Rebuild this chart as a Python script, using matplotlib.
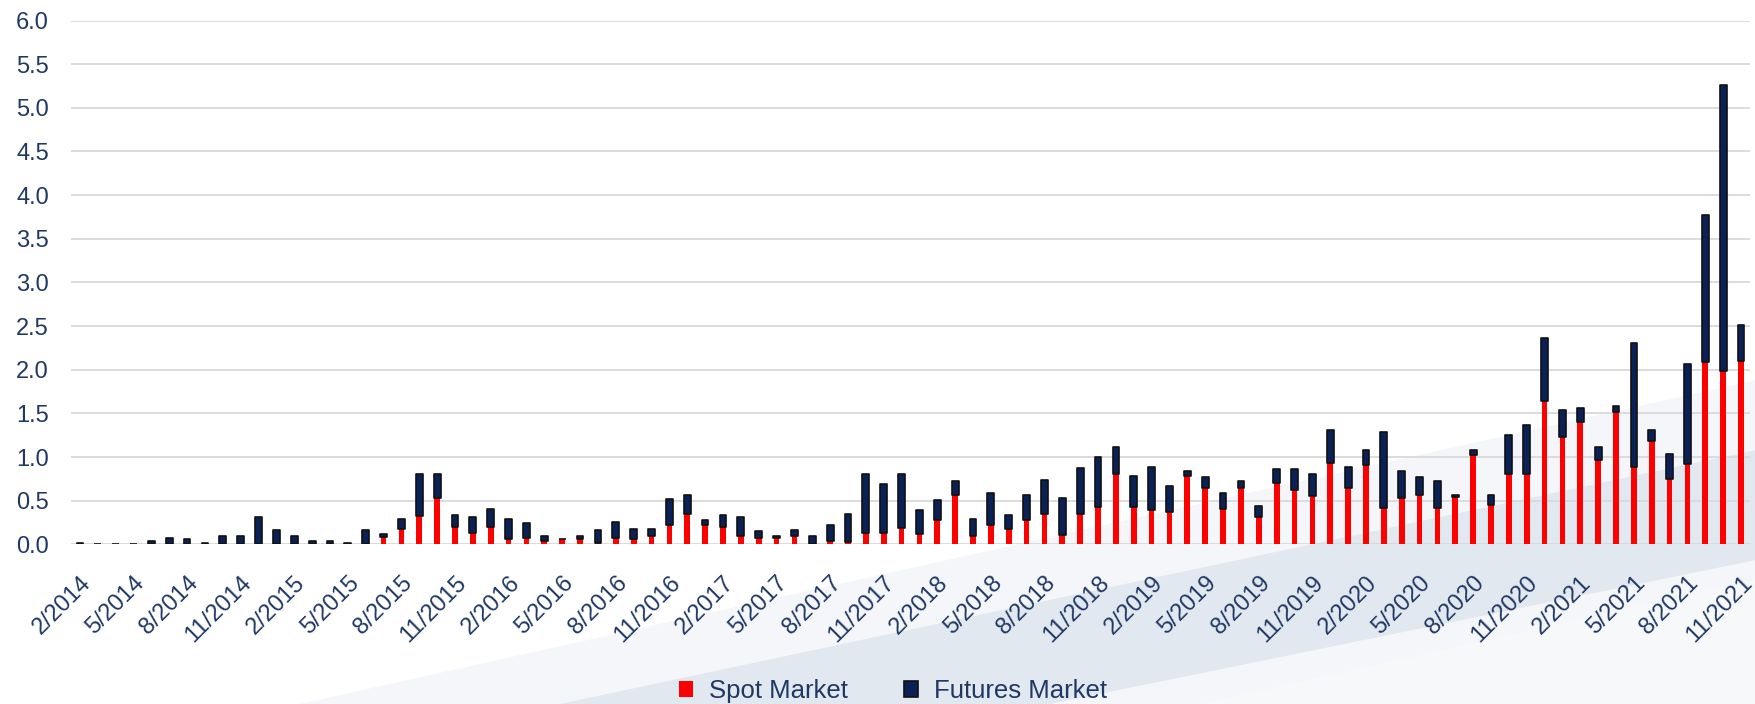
"""Monthly spot vs futures market volume, stacked bars (2/2014 - 11/2021)."""

import matplotlib

matplotlib.use("Agg")
import matplotlib.pyplot as plt  # noqa: E402
from matplotlib.patches import Polygon  # noqa: E402
import numpy as np  # noqa: E402

# month labels, Feb 2014 .. Nov 2021
months = [f"{m}/{y}" for y in range(2014, 2022) for m in range(1, 13)]
months = months[1:-1]

spot = [
    0, 0, 0, 0, 0, 0, 0, 0, 0, 0, 0, 0, 0, 0, 0, 0, 0, 0.08, 0.17, 0.32,
    0.53, 0.20, 0.13, 0.20, 0.06, 0.07, 0.04, 0.06, 0.06, 0.01, 0.07, 0.06,
    0.09, 0.22, 0.35, 0.22, 0.20, 0.10, 0.07, 0.07, 0.10, 0, 0.04, 0.03,
    0.13, 0.13, 0.19, 0.12, 0.28, 0.56, 0.09, 0.22, 0.18, 0.28, 0.35, 0.11,
    0.35, 0.43, 0.81, 0.43, 0.39, 0.37, 0.78, 0.65, 0.41, 0.65, 0.31, 0.70,
    0.62, 0.55, 0.93, 0.64, 0.91, 0.42, 0.53, 0.57, 0.42, 0.54, 1.02, 0.45,
    0.81, 0.80, 1.64, 1.23, 1.40, 0.96, 1.52, 0.89, 1.18, 0.75, 0.92, 2.09,
    1.99, 2.10,
]
futures = [
    0.02, 0, 0, 0, 0.04, 0.07, 0.06, 0.02, 0.09, 0.10, 0.31, 0.16, 0.09,
    0.04, 0.04, 0.02, 0.16, 0.04, 0.12, 0.48, 0.27, 0.13, 0.18, 0.20, 0.23,
    0.17, 0.06, 0, 0.04, 0.15, 0.19, 0.11, 0.08, 0.30, 0.21, 0.06, 0.14,
    0.21, 0.08, 0.03, 0.06, 0.09, 0.18, 0.32, 0.68, 0.56, 0.61, 0.27, 0.23,
    0.16, 0.20, 0.37, 0.16, 0.29, 0.39, 0.42, 0.52, 0.57, 0.31, 0.35, 0.49,
    0.30, 0.06, 0.12, 0.18, 0.07, 0.13, 0.16, 0.24, 0.26, 0.38, 0.25, 0.17,
    0.87, 0.31, 0.20, 0.30, 0.02, 0.06, 0.11, 0.44, 0.57, 0.72, 0.31, 0.16,
    0.15, 0.06, 1.42, 0.13, 0.28, 1.14, 1.68, 3.27, 0.41,
]
yticks = [0, 0.5, 1, 1.5, 2, 2.5, 3, 3.5, 4, 4.5, 5, 5.5, 6]

NAVY = "#1f3864"
W, H = 1756, 704

plt.rcParams["font.family"] = ["Liberation Sans", "DejaVu Sans"]

fig = plt.figure(figsize=(W / 100, H / 100), dpi=100)

# faint background swoosh (watermark)
def fig_poly(pts, **kw):
    xy = [(x / W, 1 - y / H) for x, y in pts]
    fig.patches.append(Polygon(xy, closed=True, transform=fig.transFigure,
                               zorder=-5, **kw))

fig_poly([(300, 704), (1756, 380), (1756, 704)], color="#f4f6f9", lw=0)
fig_poly([(560, 704), (1756, 450), (1756, 560), (1050, 704)],
         color="#e2e8ef", lw=0)
fig_poly([(1200, 704), (1756, 580), (1756, 704)], color="#f7f8fa", lw=0)

ax = fig.add_axes([71 / W, 1 - 544.3 / H, (1750 - 71) / W, (544.3 - 20.5) / H])
ax.set_facecolor("none")

x = np.arange(len(months))
spot = np.array(spot)
futures = np.array(futures)

ax.bar(x, spot, width=0.32, color="#ff0000", lw=0, zorder=3,
       label="Spot Market")
ax.bar(x, futures, bottom=spot, width=0.38, color="#0a2157",
       edgecolor="#111111", lw=1.2, joinstyle="round", zorder=4,
       label="Futures Market")

ax.set_xlim(-0.5, len(months) - 0.5)
ax.set_ylim(0, 6)
ax.set_yticks(yticks)
ax.set_yticklabels([f"{v:.1f}" for v in yticks])
ax.yaxis.grid(True, color="#d9d9d9", lw=1.3, zorder=0)
ax.set_axisbelow(True)
for s in ax.spines.values():
    s.set_visible(False)

ax.set_xticks(x[::3])
ax.set_xticklabels(months[::3], rotation=45, ha="right", va="top",
                   rotation_mode="anchor")
ax.tick_params(axis="both", length=0, labelsize=17, labelcolor=NAVY)
ax.tick_params(axis="y", pad=16)
ax.tick_params(axis="x", pad=20)

fig.legend(*ax.get_legend_handles_labels(), loc="center",
           bbox_to_anchor=(893 / W, 1 - 691 / H), ncol=2, frameon=False,
           fontsize=18.5, labelcolor=NAVY, handlelength=0.55,
           handleheight=0.55, columnspacing=2.2, handletextpad=0.6,
           borderpad=0)

fig.savefig("out.png", dpi=100)
